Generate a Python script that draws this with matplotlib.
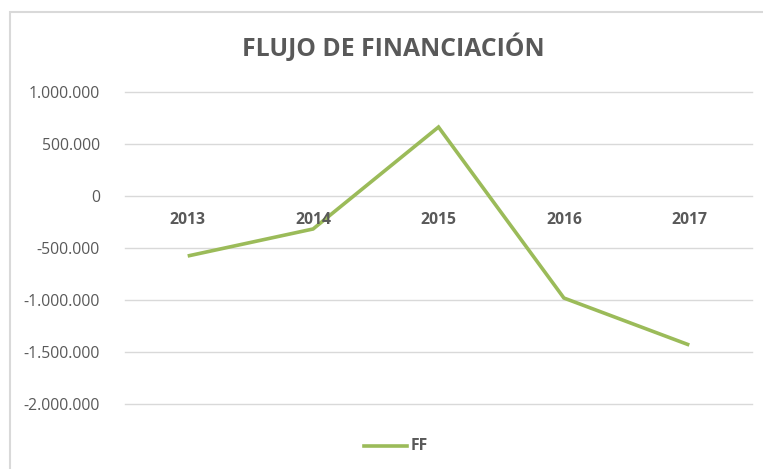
import matplotlib.pyplot as plt
from matplotlib.patches import Rectangle
from matplotlib.ticker import FuncFormatter
from matplotlib.lines import Line2D

# Data
years = ['2013', '2014', '2015', '2016', '2017']
ff_values = [-577000, -317000, 663000, -981000, -1433000]
y_ticks = [-2000000, -1500000, -1000000, -500000, 0, 500000, 1000000]

GREEN = '#9BBB59'
GRAY = '#595959'
GRID = '#D9D9D9'

plt.rcParams['font.family'] = ['Open Sans', 'DejaVu Sans']

W, H = 763, 469
fig = plt.figure(figsize=(W / 100, H / 100), dpi=100)

# chart border (cut off at the right/bottom like the screenshot)
fig.patches.append(Rectangle((10 / W, -0.1), 1.2, 1 - 12 / H + 0.1,
                             transform=fig.transFigure, fill=False,
                             edgecolor=GRID, linewidth=1.5))

ax = fig.add_axes([125 / W, 1 - 404 / H, (752 - 125) / W, (404 - 92) / H])
x = list(range(len(years)))
ax.plot(x, ff_values, color=GREEN, linewidth=2.6, solid_capstyle='butt',
        solid_joinstyle='miter')

ax.set_xlim(-0.5, len(years) - 0.5)
ax.set_ylim(-2000000, 1000000)
ax.set_yticks(y_ticks)
ax.yaxis.set_major_formatter(FuncFormatter(lambda v, p: f'{int(v):,}'.replace(',', '.')))
ax.tick_params(axis='y', length=0, pad=18, labelsize=11.3, labelcolor=GRAY)
ax.set_xticks([])
ax.grid(axis='y', color=GRID, linewidth=1)
for gl in ax.get_ygridlines():
    gl.set_clip_on(False)
ax.set_axisbelow(True)
for s in ax.spines.values():
    s.set_visible(False)

# category labels sit just under the zero line
for i, yr in enumerate(years):
    ax.text(i, -230000, yr, ha='center', va='center', fontsize=11.3,
            fontweight='bold', color=GRAY)

fig.text(393 / W, 1 - 48 / H, 'FLUJO DE FINANCIACIÓN', ha='center', va='center',
         fontsize=17.8, fontweight='bold', color=GRAY)

# legend at the bottom
fig.lines.append(Line2D([364 / W, 407 / W], [1 - 446 / H, 1 - 446 / H],
                        transform=fig.transFigure, color=GREEN, linewidth=2.6))
fig.text(411 / W, 1 - 446 / H, 'FF', ha='left', va='center', fontsize=11.3,
         fontweight='bold', color=GRAY)

fig.savefig('out.png', dpi=100)
